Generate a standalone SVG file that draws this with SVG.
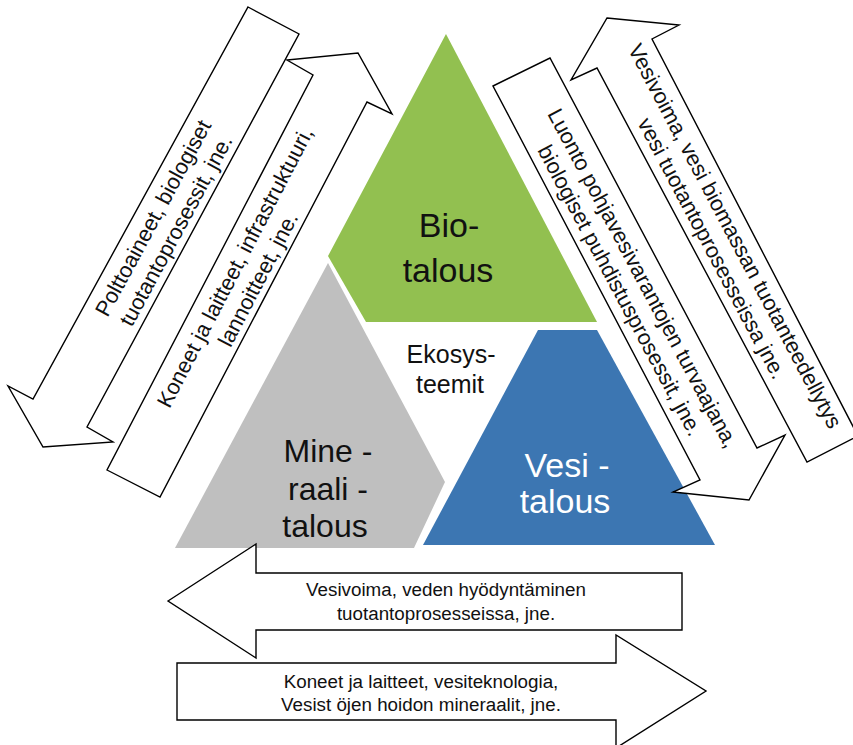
<svg xmlns="http://www.w3.org/2000/svg" width="853" height="745" viewBox="0 0 853 745">
  <style>
    text { font-family: "Liberation Sans", Arial, Helvetica, sans-serif; fill: #111; }
    .big { font-size: 34px; text-anchor: middle; }
    .mid { font-size: 32px; text-anchor: middle; }
    .eko { font-size: 25px; text-anchor: middle; }
    .lbl { font-size: 21.8px; text-anchor: middle; }
    .blbl { font-size: 18.8px; text-anchor: middle; }
    .arrow { fill: #ffffff; stroke: #000000; stroke-width: 1.4; stroke-linejoin: miter; }
  </style>
  <rect x="0" y="0" width="853" height="745" fill="#ffffff"/>

  <g id="node-bio">
    <polygon points="446,34 328,256 366,322 597,322" fill="#92C050"/>
    <text class="big" x="449" y="237">Bio-</text>
    <text class="big" x="448" y="282">talous</text>
  </g>

  <g id="node-mineraali">
    <polygon points="328,263 445,482 414,548 175,548" fill="#BFBFBF"/>
    <text class="mid" x="328" y="462">Mine -</text>
    <text class="mid" x="328" y="500">raali -</text>
    <text class="mid" x="325" y="537">talous</text>
  </g>

  <g id="node-vesi">
    <polygon points="538,330 597,330 715,545 423,545" fill="#3C76B2"/>
    <text class="big" x="567" y="477" style="fill:#ffffff">Vesi -</text>
    <text class="big" x="565" y="513" style="fill:#ffffff">talous</text>
  </g>

  <g id="node-ekosysteemit">
    <text class="eko" x="451" y="363">Ekosys-</text>
    <text class="eko" x="450" y="393">teemit</text>
  </g>

  <g id="connectors">
    <g id="arrow-bio-to-mineraali">
      <polygon class="arrow" points="248,7 299,34 87,427 113,442 43,447 8,386 33,399"/>
      <g transform="translate(164,224) rotate(-61.6)">
        <text class="lbl" x="0" y="-5">Polttoaineet, biologiset</text>
        <text class="lbl" x="0" y="21">tuotantoprosessit, jne.</text>
      </g>
    </g>
    <g id="arrow-mineraali-to-bio">
      <polygon class="arrow" points="107,470 160,497 367,102 392,114 358,53 287,60 313,75"/>
      <g transform="translate(246,273) rotate(-62.5)">
        <text class="lbl" x="0" y="-5">Koneet ja laitteet, infrastruktuuri,</text>
        <text class="lbl" x="0" y="21">lannoitteet, jne.</text>
      </g>
    </g>
    <g id="arrow-vesi-to-bio">
      <polygon class="arrow" points="607,18 679,25 652,39 858,436 807,462 597,68 571,80"/>
      <g transform="translate(724,242) rotate(62.1)">
        <text class="lbl" x="0" y="-5">Vesivoima, vesi biomassan tuotanteedellytys</text>
        <text class="lbl" x="0" y="21">vesi tuotantoprosesseissa jne.</text>
      </g>
    </g>
    <g id="arrow-bio-to-vesi">
      <polygon class="arrow" points="493,86 550,58 757,448 785,435 749,500 673,492 700,480"/>
      <g transform="translate(632,284) rotate(62)">
        <text class="lbl" x="0" y="-5">Luonto pohjavesivarantojen turvaajana,</text>
        <text class="lbl" x="0" y="21">biologiset puhdistusprosessit, jne.</text>
      </g>
    </g>
    <g id="arrow-vesi-to-mineraali">
      <polygon class="arrow" points="168,601 256,544 256,573 682,573 682,630 256,630 256,658"/>
      <text class="blbl" x="446" y="596">Vesivoima, veden hyödyntäminen</text>
      <text class="blbl" x="446" y="620">tuotantoprosesseissa, jne.</text>
    </g>
    <g id="arrow-mineraali-to-vesi">
      <polygon class="arrow" points="177,663 616,663 616,635 706,691 616,748 616,720 177,720"/>
      <text class="blbl" x="421" y="688">Koneet ja laitteet, vesiteknologia,</text>
      <text class="blbl" x="421" y="711">Vesist öjen hoidon mineraalit, jne.</text>
    </g>
  </g>
</svg>
